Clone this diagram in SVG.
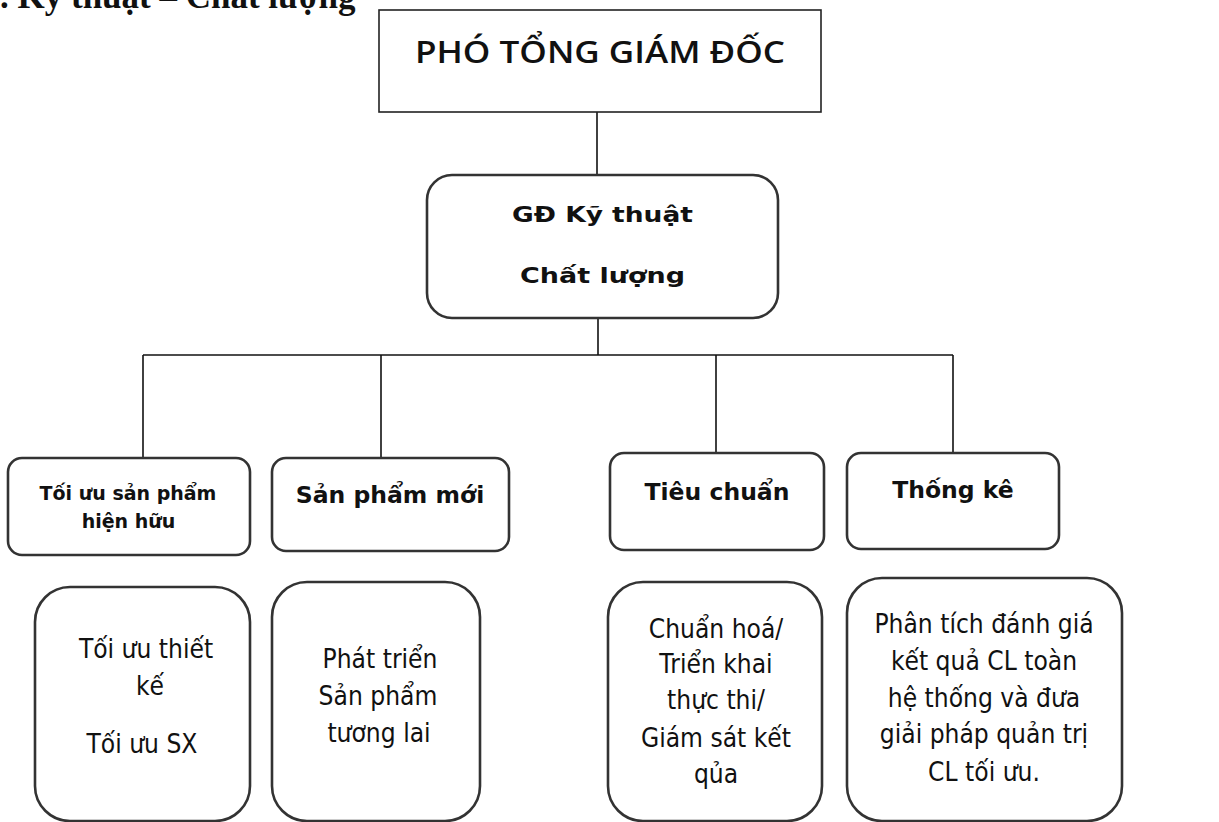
<svg xmlns="http://www.w3.org/2000/svg" width="1219" height="822" viewBox="0 0 1219 822">
<style>
.bg{fill:#ffffff}
.ln{stroke:#111;stroke-width:1.6;fill:none}
.rect{fill:#fff;stroke:#222;stroke-width:1.6}
.rb{fill:#fff;stroke:#333;stroke-width:2.6}
.t{font-family:"DejaVu Sans",Verdana,sans-serif;fill:#111;text-anchor:middle}
.b{font-weight:bold}
.s23{font-size:23.5px}
.s19{font-size:19px}
.s21{font-size:21px}
.title{font-family:"Open Sans","Liberation Sans",sans-serif;font-weight:600;font-size:31px;fill:#111;text-anchor:middle}
.hdr{font-family:"Liberation Serif","Times New Roman",serif;font-weight:bold;font-size:35px;fill:#111}
</style>
<rect class="bg" x="0" y="0" width="1219" height="822"/>
<text class="hdr" x="0" y="8">. Kỹ thuật – Chất lượng</text>
<g id="connectors">
<line class="ln" x1="597" y1="112" x2="597" y2="175"/>
<line class="ln" x1="598" y1="318" x2="598" y2="355"/>
<line class="ln" x1="143" y1="355" x2="953" y2="355"/>
<line class="ln" x1="143" y1="355" x2="143" y2="458"/>
<line class="ln" x1="381" y1="355" x2="381" y2="458"/>
<line class="ln" x1="716" y1="355" x2="716" y2="453"/>
<line class="ln" x1="953" y1="355" x2="953" y2="453"/>
</g>
<g id="pho-tong-giam-doc">
<rect class="rect" x="379" y="10" width="442" height="102"/>
<text class="title" x="600" y="63" textLength="370" lengthAdjust="spacingAndGlyphs">PHÓ TỔNG GIÁM ĐỐC</text>
</g>
<g id="gd-ky-thuat">
<rect class="rb" x="427" y="175" width="351" height="143" rx="25"/>
<text class="t b s21" x="602.5" y="222" textLength="181" lengthAdjust="spacingAndGlyphs">GĐ Kỹ thuật</text>
<text class="t b s21" x="602.5" y="283" textLength="165" lengthAdjust="spacingAndGlyphs">Chất lượng</text>
</g>
<g id="toi-uu-san-pham">
<rect class="rb" x="8" y="458" width="242" height="97" rx="14"/>
<text class="t b s19" x="128" y="500">Tối ưu sản phẩm</text>
<text class="t b s19" x="128.5" y="528">hiện hữu</text>
</g>
<g id="san-pham-moi">
<rect class="rb" x="272" y="458" width="237" height="93" rx="14"/>
<text class="t b s23" x="390" y="503">Sản phẩm mới</text>
</g>
<g id="tieu-chuan">
<rect class="rb" x="610" y="453" width="214" height="97" rx="14"/>
<text class="t b s23" x="717" y="500">Tiêu chuẩn</text>
</g>
<g id="thong-ke">
<rect class="rb" x="847" y="453" width="212" height="96" rx="14"/>
<text class="t b s23" x="953" y="498">Thống kê</text>
</g>
<g id="toi-uu-thiet-ke">
<rect class="rb" x="35" y="587" width="215" height="234" rx="35"/>
<text class="t s23" x="146" y="658" transform="matrix(1 0 0 1.16 0 -105.28)">Tối ưu thiết</text>
<text class="t s23" x="150" y="695" transform="matrix(1 0 0 1.16 0 -111.2)">kế</text>
<text class="t s23" x="142" y="753" transform="matrix(1 0 0 1.16 0 -120.48)">Tối ưu SX</text>
</g>
<g id="phat-trien">
<rect class="rb" x="272" y="582" width="208" height="239" rx="35"/>
<text class="t s23" x="380" y="668" transform="matrix(1 0 0 1.16 0 -106.88)">Phát triển</text>
<text class="t s23" x="378" y="705" transform="matrix(1 0 0 1.16 0 -112.8)">Sản phẩm</text>
<text class="t s23" x="379" y="742" transform="matrix(1 0 0 1.16 0 -118.72)">tương lai</text>
</g>
<g id="chuan-hoa">
<rect class="rb" x="608" y="582" width="214" height="239" rx="35"/>
<text class="t s23" x="716" y="638" transform="matrix(1 0 0 1.16 0 -102.08)">Chuẩn hoá/</text>
<text class="t s23" x="716" y="673" transform="matrix(1 0 0 1.16 0 -107.68)">Triển khai</text>
<text class="t s23" x="716" y="709" transform="matrix(1 0 0 1.16 0 -113.44)">thực thi/</text>
<text class="t s23" x="716" y="747" transform="matrix(1 0 0 1.16 0 -119.52)">Giám sát kết</text>
<text class="t s23" x="716" y="783" transform="matrix(1 0 0 1.16 0 -125.28)">qủa</text>
</g>
<g id="phan-tich">
<rect class="rb" x="847" y="578" width="275" height="243" rx="35"/>
<text class="t s23" x="984" y="633" transform="matrix(1 0 0 1.16 0 -101.28)">Phân tích đánh giá</text>
<text class="t s23" x="984" y="670" transform="matrix(1 0 0 1.16 0 -107.2)">kết quả CL toàn</text>
<text class="t s23" x="984" y="707" transform="matrix(1 0 0 1.16 0 -113.12)">hệ thống và đưa</text>
<text class="t s23" x="984" y="743" transform="matrix(1 0 0 1.16 0 -118.88)">giải pháp quản trị</text>
<text class="t s23" x="984" y="781" transform="matrix(1 0 0 1.16 0 -124.96)">CL tối ưu.</text>
</g>
</svg>
